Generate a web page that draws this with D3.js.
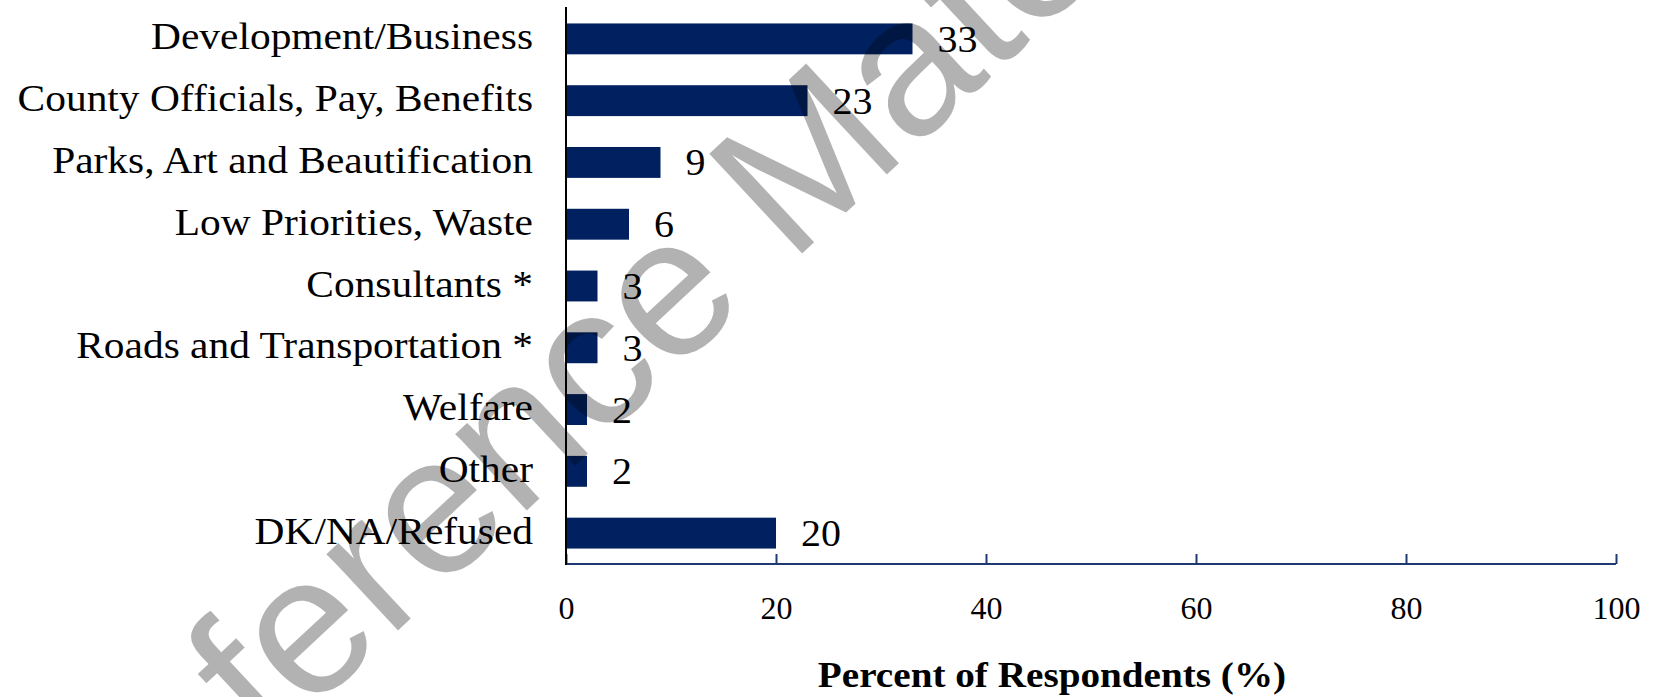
<!DOCTYPE html>
<html>
<head>
<meta charset="utf-8">
<script src="https://cdn.jsdelivr.net/npm/d3@7"></script>
<style>
  html, body { margin: 0; padding: 0; background: #fff; }
  svg { display: block; }
</style>
</head>
<body>
<svg id="chart" width="1661" height="697"></svg>
<script>
// ---- data ----
const categories = [
  "Development/Business",
  "County Officials, Pay, Benefits",
  "Parks, Art and Beautification",
  "Low Priorities, Waste",
  "Consultants *",
  "Roads and Transportation *",
  "Welfare",
  "Other",
  "DK/NA/Refused"
];
const values = [33, 23, 9, 6, 3, 3, 2, 2, 20];
const xTicks = [0, 20, 40, 60, 80, 100];
const xTitle = "Percent of Respondents (%)";
const watermarkText = "Reference Material";

// ---- layout ----
const svg = d3.select("#chart");
const serif = "'Liberation Serif', 'Times New Roman', serif";
const barColor = "#002060";
const axisColor = "#1f3a73";

const x = d3.scaleLinear().domain([0, 100]).range([566, 1616]);
const y = d3.scaleBand().domain(categories).range([8, 564])
  .paddingInner(0.5).paddingOuter(0.25);

const g = svg.append("g");

// bars
g.selectAll("rect.bar").data(values).join("rect")
  .attr("class", "bar")
  .attr("x", x(0))
  .attr("y", (d, i) => y(categories[i]))
  .attr("width", d => x(d) - x(0))
  .attr("height", y.bandwidth())
  .attr("fill", barColor);

// x axis
const xAxis = d3.axisBottom(x).tickValues(xTicks).tickSize(-10).tickPadding(0).tickFormat(d3.format("d"));
const xg = g.append("g").attr("transform", "translate(0,564)").call(xAxis);
xg.select(".domain").attr("stroke", axisColor).attr("stroke-width", 2)
  .attr("d", `M${x(0)},0H${x(100)}`);
xg.selectAll(".tick line").attr("stroke", axisColor).attr("stroke-width", 2);
xg.selectAll(".tick text").remove();
xg.selectAll(".tick").append("text")
  .attr("y", 55)
  .attr("text-anchor", "middle")
  .attr("fill", "#000")
  .style("font-family", serif)
  .style("font-size", "32px")
  .text(d => d);

// y axis
const yAxis = d3.axisLeft(y).tickSize(0).tickPadding(0);
const yg = g.append("g").attr("transform", `translate(${x(0)},0)`).call(yAxis);
yg.select(".domain").attr("stroke", "#000").attr("stroke-width", 2)
  .attr("d", "M0,7V565");
yg.selectAll(".tick text").remove();
yg.selectAll(".tick").append("text")
  .attr("transform", "translate(-33,10.5) scale(1.12,1)")
  .attr("text-anchor", "end")
  .attr("fill", "#000")
  .style("font-family", serif)
  .style("font-size", "37px")
  .text(d => d);

// value labels
g.selectAll("text.val").data(values).join("text")
  .attr("class", "val")
  .attr("transform", (d, i) => `translate(${x(d) + 25},${y(categories[i]) + y.bandwidth() / 2 + 13}) scale(1.08,1)`)
  .attr("fill", "#000")
  .style("font-family", serif)
  .style("font-size", "37px")
  .text(d => d);

// axis title
svg.append("text")
  .attr("transform", "translate(1052,687) scale(1.12,1)")
  .attr("text-anchor", "middle")
  .attr("fill", "#000")
  .style("font-family", serif)
  .style("font-weight", "bold")
  .style("font-size", "35px")
  .text(xTitle);

// watermark
svg.append("text")
  .attr("transform", "translate(82,925) rotate(-43)")
  .attr("fill", "#000")
  .attr("fill-opacity", 0.3)
  .style("font-family", "'Liberation Sans', Arial, sans-serif")
  .style("font-size", "198px")
  .text(watermarkText);
</script>
</body>
</html>
